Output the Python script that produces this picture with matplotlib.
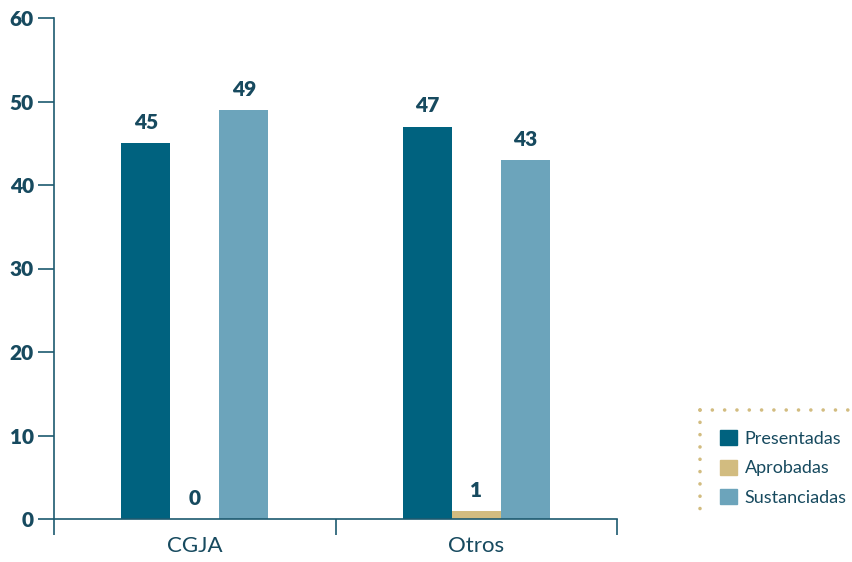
import numpy as np
import matplotlib.pyplot as plt
from matplotlib.lines import Line2D
from matplotlib.patches import Patch

categories = ['CGJA', 'Otros']
series_names = ['Presentadas', 'Aprobadas', 'Sustanciadas']
presentadas = [45, 47]
aprobadas = [0, 1]
sustanciadas = [49, 43]
yticks = [0, 10, 20, 30, 40, 50, 60]

colors = ['#00627f', '#d2bc80', '#6ca4bb']
text_color = '#174a5f'
axis_color = '#1d5a70'
plt.rcParams['font.family'] = ['Lato', 'DejaVu Sans']

fig = plt.figure(figsize=(8.52, 5.62), dpi=100)
ax = fig.add_axes([54 / 852, 43 / 562, 563 / 852, 501 / 562])

x = np.arange(len(categories))
w = 0.174
values = [presentadas, aprobadas, sustanciadas]
for i, (vals, c) in enumerate(zip(values, colors)):
    bars = ax.bar(x + (i - 1) * w, vals, w, color=c, label=series_names[i])
    for b, v in zip(bars, vals):
        ax.annotate(str(v), (b.get_x() + b.get_width() / 2, v),
                    xytext=(0, 8), textcoords='offset points',
                    ha='center', va='bottom', fontsize=15,
                    fontweight='heavy', color=text_color)

ax.set_xlim(-0.5, 1.5)
ax.set_ylim(0, 60)
ax.set_yticks(yticks)
ax.set_xticks(x)
ax.set_xticklabels(categories)
ax.set_xticks([-0.5, 0.5, 1.5], minor=True)

for s in ['top', 'right']:
    ax.spines[s].set_visible(False)
for s in ['left', 'bottom']:
    ax.spines[s].set_color(axis_color)
    ax.spines[s].set_linewidth(1.2)

ax.tick_params(axis='y', length=11.5, width=1.2, color=axis_color,
               labelsize=15, labelcolor=text_color, pad=3)
for t in ax.get_yticklabels():
    t.set_fontweight('heavy')
ax.tick_params(axis='x', which='major', length=0, labelsize=16,
               labelcolor=text_color, pad=12)
ax.tick_params(axis='x', which='minor', length=11.5, width=1.2,
               color=axis_color)

# legend with dotted border on top and left
handles = [Patch(color=c) for c in colors]
fig.legend(handles, series_names, loc='upper left',
           bbox_to_anchor=(704 / 852, 1 - 414 / 562), frameon=False,
           fontsize=13, labelcolor=text_color, handlelength=0.9,
           handleheight=0.9, handletextpad=0.45, labelspacing=0.7)
dot = dict(color='#d2bc80', linestyle=(0, (0.01, 3.4)), linewidth=2.6,
           dash_capstyle='round', transform=fig.transFigure)
fig.lines.append(Line2D([700 / 852, 1.0], [1 - 410 / 562] * 2, **dot))
fig.lines.append(Line2D([700 / 852] * 2, [1 - 410 / 562, 1 - 518 / 562], **dot))

fig.savefig('out.png', dpi=100)
